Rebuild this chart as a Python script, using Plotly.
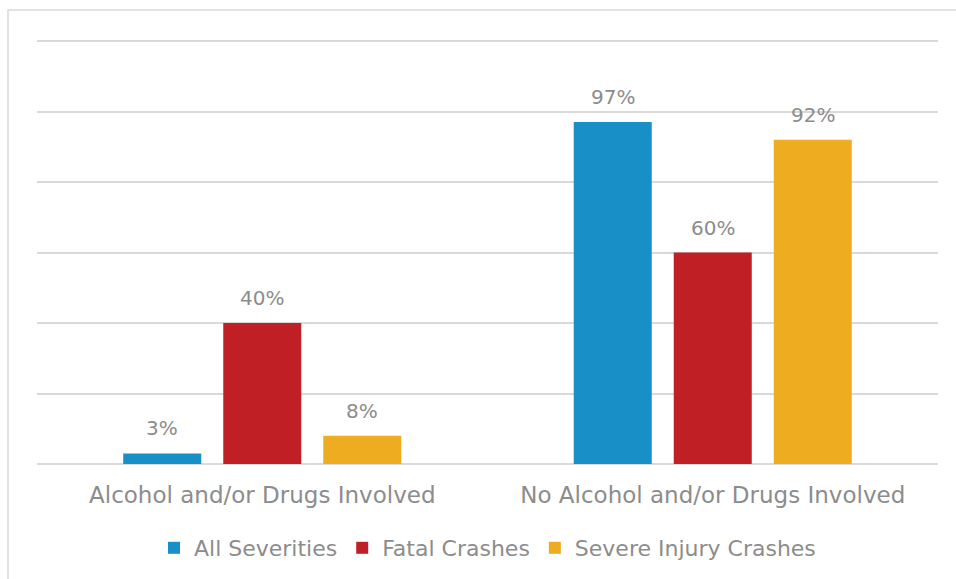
import plotly.graph_objects as go

categories = ["Alcohol and/or Drugs Involved", "No Alcohol and/or Drugs Involved"]
series_names = ["All Severities", "Fatal Crashes", "Severe Injury Crashes"]
all_severities = [3, 97]
fatal_crashes = [40, 60]
severe_injury = [8, 92]

colors = ["#188FC6", "#C01F26", "#EEAC20"]
text_gray = "#8C8C8C"
grid_gray = "#D9D9D9"
font_family = "DejaVu Sans, sans-serif"

# pixel offsets of each bar within its category group
group_offsets = [-100, 0, 100]

fig = go.Figure()
annotations = []
for name, vals, col, dx in zip(series_names, [all_severities, fatal_crashes, severe_injury], colors, group_offsets):
    fig.add_trace(go.Bar(
        name=name, x=categories, y=vals,
        marker=dict(color=col, line=dict(width=0)),
    ))
    for cat, v in zip(categories, vals):
        annotations.append(dict(
            x=cat, y=v, xref="x", yref="y", text=f"{v}%", showarrow=False,
            xshift=dx, yshift=25, yanchor="middle", xanchor="center",
            font=dict(size=20, color=text_gray, family=font_family),
        ))

plot_h = 579 - 40 - 115

fig.update_layout(
    width=956, height=579,
    margin=dict(l=37, r=18, t=40, b=115, autoexpand=False),
    paper_bgcolor="white", plot_bgcolor="white",
    barmode="group", bargap=0.334, bargroupgap=0.22,
    font=dict(family=font_family, color=text_gray),
    showlegend=True,
    legend=dict(orientation="h", x=0.5, xanchor="center", y=-(548 - 464) / plot_h, yanchor="middle",
                font=dict(size=22, color=text_gray, family=font_family),
                itemwidth=30, traceorder="normal"),
    xaxis=dict(showgrid=False, showline=False, ticks="", tickfont=dict(size=23, color=text_gray),
               ticklabelstandoff=15, automargin=False),
    yaxis=dict(range=[0, 120.3], tickvals=[0, 20, 40, 60, 80, 100, 120], showticklabels=False,
               showgrid=True, gridcolor=grid_gray, gridwidth=1.5, zeroline=True,
               zerolinecolor=grid_gray, zerolinewidth=2, showline=False, automargin=False),
    annotations=annotations,
    shapes=[dict(type="rect", xref="paper", yref="paper",
                 x0=(8 - 37) / 901, x1=(1000 - 37) / 901,
                 y0=-0.4, y1=1 + 30 / plot_h,
                 line=dict(color=grid_gray, width=1.5), layer="below")],
)

fig.write_html("out.html")
